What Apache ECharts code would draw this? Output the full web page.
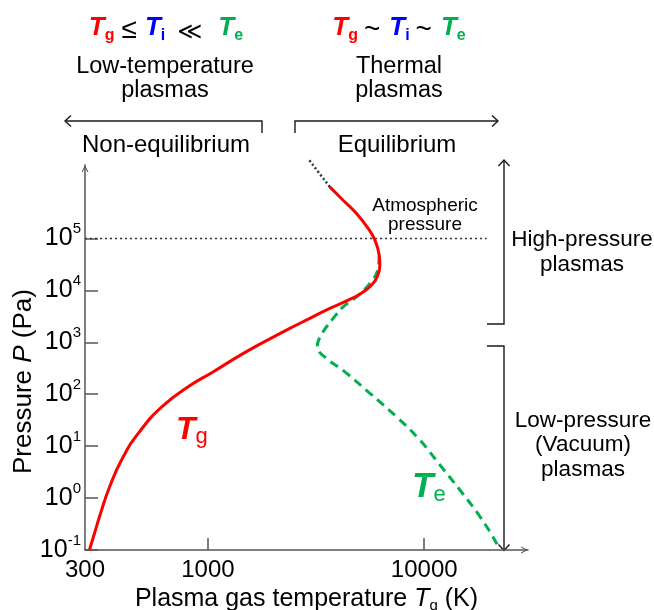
<!DOCTYPE html>
<html><head><meta charset="utf-8">
<script src="https://cdn.jsdelivr.net/npm/echarts@6/dist/echarts.min.js"></script>
<style>html,body{margin:0;padding:0;background:#fff}#c{width:654px;height:610px}</style>
</head><body><div id="c"></div>
<script>
// ---- axes ----
const X_MIN = 270, X_MAX = 30200;
const Y_MIN = 0.1, Y_MAX = 2.6e6;
const xTickValues = [1000, 10000];
const xLabelValues = [270, 1000, 10000];
const xLabelTexts = ['300', '1000', '10000'];
const yTickValues = [0.1, 1, 10, 100, 1000, 10000, 100000];
const yTickExponents = ['-1', '0', '1', '2', '3', '4', '5'];

// ---- Tg (gas temperature, red solid) ----
const tgT = [283, 299, 315, 351, 404, 483, 619, 823, 1055, 1506, 2148, 2389, 2956, 3659, 4527, 5124, 5703, 6060, 6236, 6193, 5914, 5505, 4864, 4217, 3659];
const tgP = [0.1, 0.212, 0.437, 1.65, 6.03, 19.1, 59.4, 145, 269, 662, 1469, 1855, 2884, 4500, 6700, 8850, 12600, 18200, 30600, 47400, 92700, 156000, 303000, 546000, 984000];

// ---- Te (electron temperature, green dashed) ----
const teT = [6193, 6124, 5610, 4864, 4217, 3790, 3406, 3228, 3206, 3531, 4296, 5610, 7450, 9550, 11830, 14630, 18100, 21600, 22000];
const teP = [47400, 26400, 13600, 7520, 4820, 2884, 1592, 1023, 809, 490, 270, 104, 36.8, 13.1, 4.33, 1.43, 0.44, 0.135, 0.1];

// ---- dotted extension of Tg above ~1e6 Pa ----
const extT = [3659, 2900];
const extP = [984000, 3.47e6];

// ---- atmospheric pressure line ----
const atmT = [270, 19450];
const atmP = [1e5, 1e5];

const zip = (a, b) => a.map((v, i) => [v, b[i]]);
const FONT = "'Liberation Sans', Arial, 'DejaVu Sans', sans-serif";
const RED = '#ff0000', GREEN = '#00b050', BLUE = '#0000ff', AX = '#555555', INK = '#1a1a1a';
const ARROW = 'path://M0,10L5,0L10,10L8.4,10L5,3.2L1.6,10Z';

function nearIdx(arr, v) {
  let best = 0, bd = Infinity;
  arr.forEach((a, i) => { const d = Math.abs(Math.log10(a) - Math.log10(v)); if (d < bd) { bd = d; best = i; } });
  return best;
}

const chart = echarts.init(document.getElementById('c'), null, { renderer: 'canvas' });

function txt(x, y, text, size, extra) {
  return {
    type: 'text', silent: true,
    style: Object.assign({
      x: x, y: y, text: text, fill: '#000', fontSize: size, fontFamily: FONT,
      align: 'center', verticalAlign: 'middle', textAlign: 'center', textVerticalAlign: 'middle'
    }, extra || {})
  };
}
function poly(points) {
  return { type: 'polyline', silent: true, shape: { points: points }, style: { stroke: INK, lineWidth: 1.4, fill: null } };
}
const bigT = c => ({ fontSize: 26, fontWeight: 'bold', fontStyle: 'italic', fill: c, fontFamily: FONT, lineHeight: 32 });
const subT = c => ({ fontSize: 16, fontWeight: 'bold', fill: c, fontFamily: FONT, lineHeight: 15, verticalAlign: 'bottom' });
const titleRich = {
  tg: bigT(RED), gs: subT(RED),
  ti: bigT(BLUE), is: subT(BLUE),
  te: bigT(GREEN), es: subT(GREEN),
  le: { fontSize: 28, fill: '#000', fontFamily: FONT, lineHeight: 24, verticalAlign: 'bottom', padding: [0, 8, 0, 7] },
  ll: { fontSize: 24, fill: '#000', fontFamily: FONT, lineHeight: 22, verticalAlign: 'bottom', padding: [0, 16, 0, 12] },
  tl: { fontSize: 28, fill: '#000', fontFamily: FONT, lineHeight: 24, verticalAlign: 'bottom', padding: [0, 9, 0, 6] }
};

const option = {
  animation: false,
  backgroundColor: '#fff',
  grid: { left: 85, right: 126, top: 165, bottom: 60, containLabel: false, outerBoundsMode: 'none' },
  xAxis: {
    type: 'log', logBase: 10, min: X_MIN, max: X_MAX,
    axisLine: { show: true, onZero: false, lineStyle: { color: AX, width: 1.5 }, symbol: ['none', ARROW], symbolSize: [11, 7], symbolOffset: [0, -3.5] },
    axisTick: { show: true, inside: true, length: 12, customValues: xTickValues, lineStyle: { color: AX, width: 1.5 } },
    minorTick: { show: false },
    splitLine: { show: false },
    axisLabel: {
      customValues: xLabelValues, margin: 8, color: '#000', fontSize: 24, fontFamily: FONT,
      formatter: v => xLabelTexts[nearIdx(xLabelValues, v)]
    },
    name: 'Plasma gas temperature {i|T}{s|g} (K)',
    nameLocation: 'middle', nameGap: 35, nameMoveOverlap: false,
    nameTextStyle: {
      color: '#000', fontSize: 25, fontFamily: FONT, lineHeight: 28,
      rich: {
        i: { fontStyle: 'italic', fontSize: 25, fontFamily: FONT, color: '#000', lineHeight: 28 },
        s: { fontSize: 15, fontFamily: FONT, color: '#000', lineHeight: 14, verticalAlign: 'bottom' }
      }
    }
  },
  yAxis: {
    type: 'log', logBase: 10, min: Y_MIN, max: Y_MAX,
    axisLine: { show: true, onZero: false, lineStyle: { color: AX, width: 1.5 }, symbol: ['none', ARROW], symbolSize: [11, 7], symbolOffset: [0, -3.5] },
    axisTick: { show: true, inside: true, length: 13, customValues: yTickValues, lineStyle: { color: AX, width: 1.5 } },
    minorTick: { show: false },
    splitLine: { show: false },
    axisLabel: {
      customValues: yTickValues, margin: 4,
      formatter: v => '{b|10}{s|' + yTickExponents[nearIdx(yTickValues, v)] + '}',
      rich: {
        b: { fontSize: 25, fontFamily: FONT, color: '#000', lineHeight: 34 },
        s: { fontSize: 15, fontFamily: FONT, color: '#000', lineHeight: 14, verticalAlign: 'top' }
      }
    },
    name: 'Pressure {i|P} (Pa)',
    nameLocation: 'middle', nameGap: 46, nameRotate: 90, nameMoveOverlap: false,
    nameTextStyle: {
      color: '#000', fontSize: 26, fontFamily: FONT, lineHeight: 30, padding: [0, 48, 0, 0],
      rich: { i: { fontStyle: 'italic', fontSize: 26, fontFamily: FONT, color: '#000', lineHeight: 30 } }
    }
  },
  series: [
    { name: 'atm', type: 'line', data: zip(atmT, atmP), symbol: 'none', silent: true, z: 1,
      lineStyle: { color: '#333', width: 1.6, type: [2, 3] } },
    { name: 'Te', type: 'line', data: zip(teT, teP), symbol: 'none', smooth: 0.4, silent: true, z: 2,
      lineStyle: { color: GREEN, width: 3, type: [9, 6] } },
    { name: 'Tg', type: 'line', data: zip(tgT, tgP), symbol: 'none', smooth: 0.5, silent: true, z: 3,
      lineStyle: { color: RED, width: 3 } },
    { name: 'ext', type: 'line', data: zip(extT, extP), symbol: 'none', silent: true, clip: false, z: 3,
      lineStyle: { color: '#333', width: 2.5, type: [2, 2.5] } }
  ],
  graphic: [
    txt(166, 28, '{tg|T}{gs|g}{le|≤}{ti|T}{is|i}{ll|≪}{te|T}{es|e}', 24, { rich: titleRich }),
    txt(399, 28, '{tg|T}{gs|g}{tl|~}{ti|T}{is|i}{tl|~}{te|T}{es|e}', 24, { rich: titleRich }),
    txt(165, 78.5, 'Low-temperature\nplasmas', 23.5, { lineHeight: 24 }),
    txt(399, 78.5, 'Thermal\nplasmas', 23.5, { lineHeight: 24 }),
    txt(166, 145, 'Non-equilibrium', 24),
    txt(397, 145, 'Equilibrium', 24),
    txt(425, 215, 'Atmospheric\npressure', 19, { lineHeight: 19 }),
    txt(582, 252.5, 'High-pressure\nplasmas', 22.5, { lineHeight: 25 }),
    txt(583, 445, 'Low-pressure\n(Vacuum)\nplasmas', 22.5, { lineHeight: 24.5 }),
    txt(176, 430, '{T|T}{s|g}', 32, { align: 'left', textAlign: 'left', rich: {
      T: { fontSize: 32, fontWeight: 'bold', fontStyle: 'italic', fill: RED, fontFamily: FONT, lineHeight: 36 },
      s: { fontSize: 22, fill: RED, fontFamily: FONT, lineHeight: 22, verticalAlign: 'bottom' } } }),
    txt(412, 487, '{T|T}{s|e}', 35, { align: 'left', textAlign: 'left', rich: {
      T: { fontSize: 35, fontWeight: 'bold', fontStyle: 'italic', fill: GREEN, fontFamily: FONT, lineHeight: 38 },
      s: { fontSize: 22, fill: GREEN, fontFamily: FONT, lineHeight: 22, verticalAlign: 'bottom' } } }),
    poly([[262, 133], [262, 121], [65, 121]]),
    poly([[71, 115.5], [65, 121], [71, 126.5]]),
    poly([[295, 133], [295, 121], [498, 121]]),
    poly([[492, 115.5], [498, 121], [492, 126.5]]),
    poly([[487, 324], [504, 324], [504, 160]]),
    poly([[498.5, 166], [504, 160], [509.5, 166]]),
    poly([[487, 346], [504, 346], [504, 550.5]]),
    poly([[498.5, 544.5], [504, 550.5], [509.5, 544.5]])
  ]
};
chart.setOption(option);
</script></body></html>
